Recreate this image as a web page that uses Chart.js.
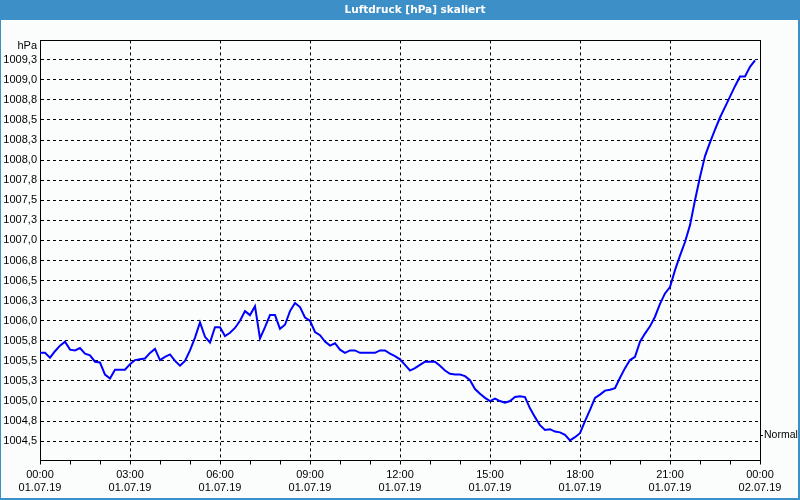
<!DOCTYPE html>
<html>
<head>
<meta charset="utf-8">
<script src="https://cdn.jsdelivr.net/npm/chart.js@4/dist/chart.umd.min.js"></script>
<style>
  html, body { margin: 0; padding: 0; background: #fbfdfd; }
  canvas { display: block; }
</style>
</head>
<body>
<canvas id="c" width="800" height="500"></canvas>
<script>
// ---- data (10-minute readings, minutes after 01.07.19 00:00) ----
const minutes = [
  0,10,20,30,40,50,60,70,80,90,100,110,120,130,140,150,160,170,180,190,200,210,220,230,
  240,250,260,270,280,290,300,310,320,330,340,350,360,370,380,390,400,410,420,430,440,450,460,470,
  480,490,500,510,520,530,540,550,560,570,580,590,600,610,620,630,640,650,660,670,680,690,700,710,
  720,730,740,750,760,770,780,790,800,810,820,830,840,850,860,870,880,890,900,910,920,930,940,950,
  960,970,980,990,1000,1010,1020,1030,1040,1050,1060,1070,1080,1090,1100,1110,1120,1130,1140,1150,1160,1170,1180,1190,
  1200,1210,1220,1230,1240,1250,1260,1270,1280,1290,1300,1310,1320,1330,1340,1350,1360,1370,1380,1390,1400,1410,1420,1430
];
const pressure = [
  1005.60,1005.60,1005.54,1005.62,1005.69,1005.74,1005.64,1005.63,1005.66,1005.59,1005.57,1005.49,
  1005.48,1005.33,1005.28,1005.39,1005.39,1005.39,1005.46,1005.51,1005.52,1005.53,1005.60,1005.65,
  1005.51,1005.55,1005.58,1005.50,1005.44,1005.50,1005.63,1005.79,1005.98,1005.80,1005.73,1005.92,
  1005.92,1005.81,1005.85,1005.91,1006.00,1006.12,1006.07,1006.18,1005.78,1005.92,1006.07,1006.07,
  1005.90,1005.95,1006.12,1006.22,1006.17,1006.04,1006.00,1005.86,1005.82,1005.74,1005.69,1005.72,
  1005.64,1005.60,1005.63,1005.63,1005.60,1005.60,1005.60,1005.60,1005.63,1005.63,1005.59,1005.56,
  1005.52,1005.45,1005.38,1005.41,1005.45,1005.49,1005.49,1005.49,1005.44,1005.38,1005.34,1005.33,
  1005.33,1005.31,1005.26,1005.15,1005.09,1005.04,1005.00,1005.03,1005.00,1004.98,1005.00,1005.05,
  1005.06,1005.05,1004.91,1004.80,1004.70,1004.64,1004.65,1004.62,1004.61,1004.58,1004.51,1004.55,
  1004.60,1004.75,1004.89,1005.04,1005.08,1005.13,1005.14,1005.16,1005.29,1005.41,1005.51,1005.55,
  1005.74,1005.84,1005.93,1006.05,1006.21,1006.34,1006.42,1006.63,1006.81,1006.98,1007.19,1007.50,
  1007.79,1008.05,1008.22,1008.38,1008.53,1008.66,1008.79,1008.92,1009.04,1009.04,1009.16,1009.24
];
const titleText = 'Luftdruck [hPa] skaliert';
const xTickMinutes = [0,60,120,180,240,300,360,420,480,540,600,660,720,780,840,900,960,1020,1080,1140,1200,1260,1320,1380,1440];
const xMajorMinutes = [0,180,360,540,720,900,1080,1260,1440];
const xTimeLabels = ['00:00','03:00','06:00','09:00','12:00','15:00','18:00','21:00','00:00'];
const xDateLabels = ['01.07.19','01.07.19','01.07.19','01.07.19','01.07.19','01.07.19','01.07.19','01.07.19','02.07.19'];
const yTickValues = [1009.25,1009.0,1008.75,1008.5,1008.25,1008.0,1007.75,1007.5,1007.25,1007.0,
                     1006.75,1006.5,1006.25,1006.0,1005.75,1005.5,1005.25,1005.0,1004.75,1004.5];
const yTickLabels = ['1009,3','1009,0','1008,8','1008,5','1008,3','1008,0','1007,8','1007,5','1007,3','1007,0',
                     '1006,8','1006,5','1006,3','1006,0','1005,8','1005,5','1005,3','1005,0','1004,8','1004,5'];
const unitLabel = 'hPa';
const unitTickValue = 1009.42;
const normalLabel = 'Normal';
const normalValue = 1004.57;
const yMin = 1004.26, yMax = 1009.49;
const xMin = 0, xMax = 1440;

// ---- styling ----
const FONT = 'Liberation Sans, Arial, sans-serif';
const TITLE_FONT = 'DejaVu Sans, Verdana, sans-serif';
const BLUE = '#3d8fc7';
const BG = '#fbfdfd';

const framePlugin = {
  id: 'frame',
  afterLayout(chart) {
    // the title of the original is centred slightly right of the window centre
    if (chart.titleBlock) { chart.titleBlock.left = 30; }
  },
  beforeDraw(chart) {
    const ctx = chart.ctx;
    ctx.save();
    ctx.fillStyle = BG;
    ctx.fillRect(0, 0, chart.width, chart.height);
    ctx.fillStyle = BLUE;
    ctx.fillRect(0, 0, chart.width, 20);
    ctx.restore();
  },
  afterDraw(chart) {
    const ctx = chart.ctx;
    ctx.save();
    ctx.fillStyle = BLUE;
    ctx.fillRect(0, 0, 1, chart.height);
    ctx.fillRect(chart.width - 2, 0, 2, chart.height);
    ctx.fillRect(0, chart.height - 2, chart.width, 2);
    ctx.restore();
  }
};

const tickFont = { family: FONT, size: 11 };

new Chart(document.getElementById('c'), {
  type: 'line',
  data: {
    datasets: [{
      data: minutes.map((m, i) => ({ x: m, y: pressure[i] })),
      borderColor: '#0000ff',
      borderWidth: 2,
      pointRadius: 0,
      tension: 0,
      fill: false
    }]
  },
  options: {
    responsive: false,
    animation: false,
    devicePixelRatio: 1,
    layout: { padding: { left: 0, right: 0, top: 0, bottom: 0 } },
    plugins: {
      legend: { display: false },
      tooltip: { enabled: false },
      title: {
        display: true,
        text: titleText,
        color: '#ffffff',
        font: { family: TITLE_FONT, size: 10.5, weight: 'bold', lineHeight: 1.2 },
        padding: { top: 3.5, bottom: 4.3 }
      }
    },
    scales: {
      x: {
        type: 'linear', position: 'bottom', bounds: 'data', min: xMin, max: xMax,
        afterBuildTicks: s => { s.ticks = xTickMinutes.map(v => ({ value: v })); },
        afterFit: s => { s.height = 39.5; },
        ticks: {
          autoSkip: false, maxRotation: 0, minRotation: 0, padding: 3,
          font: { family: FONT, size: 11, lineHeight: 1.27 }, color: '#000',
          callback: v => {
            const k = xMajorMinutes.indexOf(v);
            return k < 0 ? '' : [xTimeLabels[k], xDateLabels[k]];
          }
        },
        grid: {
          color: c => (c.tick && xMajorMinutes.indexOf(c.tick.value) >= 0) ? '#000' : 'rgba(0,0,0,0)',
          lineWidth: 1, drawTicks: true, tickLength: 4, tickColor: '#000', tickWidth: 1, tickBorderDash: []
        },
        border: { display: true, color: '#000', width: 1, dash: [3, 3] }
      },
      x2: {
        type: 'linear', position: 'top', bounds: 'data', min: xMin, max: xMax,
        afterBuildTicks: s => { s.ticks = []; },
        afterFit: s => { s.height = 20; },
        ticks: { display: false },
        grid: { drawOnChartArea: false, drawTicks: false },
        border: { display: true, color: '#000', width: 1 }
      },
      y: {
        type: 'linear', position: 'left', bounds: 'data', min: yMin, max: yMax,
        afterBuildTicks: s => { s.ticks = [{ value: unitTickValue }].concat(yTickValues.map(v => ({ value: v }))); },
        afterFit: s => { s.width = 40; },
        ticks: {
          autoSkip: false, padding: 3, font: tickFont, color: '#000',
          callback: v => v === unitTickValue ? unitLabel : yTickLabels[yTickValues.indexOf(v)]
        },
        grid: {
          color: c => (c.tick && c.tick.value === unitTickValue) ? 'rgba(0,0,0,0)' : '#000',
          lineWidth: 1, drawTicks: false
        },
        border: { display: true, color: '#000', width: 1, dash: [3, 3] }
      },
      y2: {
        type: 'linear', position: 'right', bounds: 'data', min: yMin, max: yMax,
        afterBuildTicks: s => { s.ticks = [{ value: normalValue }]; },
        afterFit: s => { s.width = 40; },
        ticks: { autoSkip: false, padding: 1, font: { family: FONT, size: 10.5 }, color: '#000', callback: () => normalLabel },
        grid: { drawOnChartArea: false, drawTicks: true, tickLength: 3, tickColor: '#000', tickBorderDash: [] },
        border: { display: true, color: '#000', width: 1 }
      }
    }
  },
  plugins: [framePlugin]
});
</script>
</body>
</html>
